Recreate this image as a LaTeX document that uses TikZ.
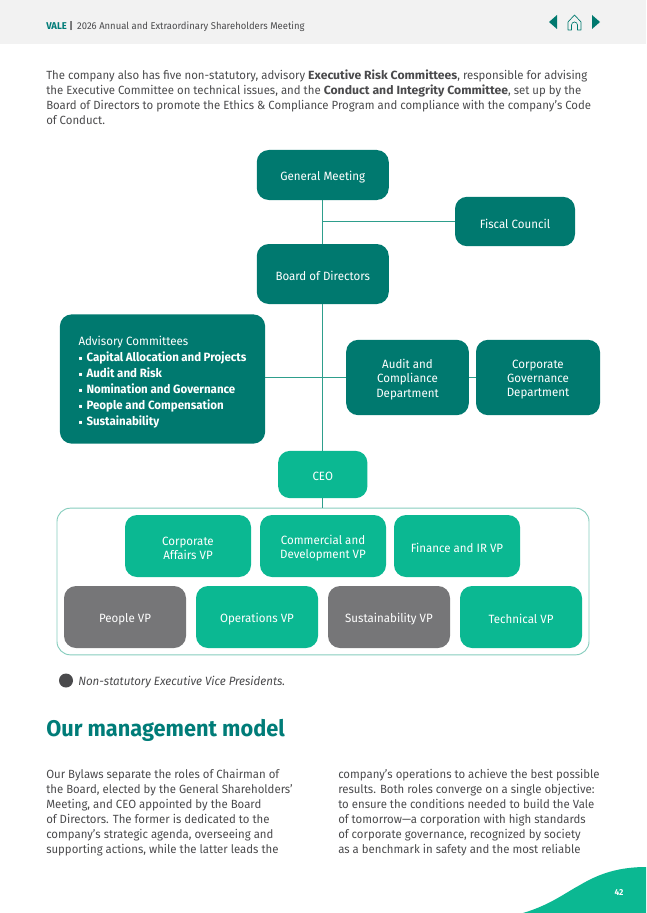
\documentclass[tikz,border=0pt]{standalone}
\usepackage{fontspec}
\setmainfont[FakeStretch=0.96]{Fira Sans}
\newfontfamily\symbolfont{DejaVu Sans}
\newfontfamily\widefont[FakeStretch=1.03]{Fira Sans}
\usepackage{xcolor}
\definecolor{valedark}{HTML}{00796F}
\definecolor{valelight}{HTML}{0BB892}
\definecolor{valegray}{HTML}{767678}
\definecolor{valeline}{HTML}{2E9E8C}
\definecolor{valeframe}{HTML}{86CDBD}
\definecolor{valetext}{HTML}{4A4A4C}
\definecolor{valeband}{HTML}{F2F2F2}
\definecolor{valehead}{HTML}{007C78}
\newcommand{\committee}[1]{\makebox[6pt][l]{\raisebox{0.6pt}{\symbolfont\fontsize{4.5}{5}\selectfont ▪}}\textbf{#1}}
\newcommand{\boxlabel}[2][90pt]{\parbox{#1}{\centering\vspace*{3pt}#2}}
\newcommand{\widebold}[1]{{\widefont\bfseries #1}}
\tikzset{
    orgbox/.style={rounded corners=9pt,align=center,text=white,font=\fontsize{9}{10.6}\selectfont,inner sep=0pt},
    darkbox/.style={orgbox,fill=valedark},
    lightbox/.style={orgbox,fill=valelight},
    graybox/.style={orgbox,fill=valegray},
    bodytext/.style={anchor=north west,align=left,inner sep=0pt,text=valetext,font=\fontsize{8.9}{11.25}\selectfont},
    link/.style={draw=valeline,line width=0.7pt}
}
\begin{document}
\begin{tikzpicture}[x=0.75pt,y=-0.75pt]
        \useasboundingbox (0,0) rectangle (646,913);
        % header
        \fill[valeband] (0,0) rectangle (646,44);
        \node[anchor=west,inner sep=0pt,text=valetext,font=\fontsize{7.4}{8}\selectfont] (headline) at (46,26.5) {\textcolor{valehead}{\textbf{VALE}} \textbf{|}\, 2026 Annual and Extraordinary Shareholders Meeting};
        \fill[valedark] (557,15) -- (557,29) -- (549,22) -- cycle;
        \fill[valedark] (592,15) -- (592,29) -- (600,22) -- cycle;
        \draw[valedark,line width=0.5pt,line join=round] (568,30) -- (568,22) -- (574.5,15) -- (581,22) -- (581,30) -- (577.5,30) -- (577.5,25) arc (0:-180:3) -- (571.5,30) -- cycle;
        % intro
        \node[bodytext] (intro) at (46,70) {The company also has five non-statutory, advisory \widebold{Executive Risk Committees}, responsible for advising\\
            the Executive Committee on technical issues, and the \widebold{Conduct and Integrity Committee}, set up by the\\
            Board of Directors to promote the Ethics \& Compliance Program and compliance with the company's Code\\
            of Conduct.};
        % upper boxes
        \node[darkbox,minimum width=99pt,minimum height=37.5pt] (meeting) at (322.75,175) {\boxlabel{General Meeting}};
        \node[darkbox,minimum width=90pt,minimum height=37pt] (fiscal) at (515,221.5) {\boxlabel[80pt]{Fiscal Council}};
        \node[darkbox,minimum width=99pt,minimum height=45pt] (board) at (322.75,274) {\boxlabel{Board of Directors}};
        \node[darkbox,minimum width=154pt,minimum height=97pt,align=left] (advisory) at (162.5,379) {\begin{minipage}{126pt}\raggedright\fontsize{9}{11.9}\selectfont\vspace*{4.5pt}Advisory Committees\\
            \committee{Capital Allocation and Projects}\\
            \committee{Audit and Risk}\\
            \committee{Nomination and Governance}\\
            \committee{People and Compensation}\\
            \committee{Sustainability}\end{minipage}};
        \node[darkbox,minimum width=92pt,minimum height=56.5pt] (audit) at (407.5,377.5) {\boxlabel{Audit and\\Compliance\\Department}};
        \node[darkbox,minimum width=93pt,minimum height=56.5pt] (governance) at (538,377.5) {\boxlabel{Corporate\\Governance\\Department}};
        \node[lightbox,minimum width=67pt,minimum height=35.5pt] (ceo) at (322.75,474.5) {\boxlabel[40pt]{CEO}};
        % vice presidents
        \node[draw=valeframe,line width=0.7pt,rounded corners=10pt,minimum width=399pt,minimum height=110pt,inner sep=0pt] (vpframe) at (323,581.5) {};
        \node[lightbox,minimum width=94.5pt,minimum height=46.5pt] (affairs) at (188,546) {\boxlabel{Corporate\\Affairs VP}};
        \node[lightbox,minimum width=94.5pt,minimum height=46.5pt] (commercial) at (323,546) {\boxlabel{Commercial and\\Development VP}};
        \node[lightbox,minimum width=94.5pt,minimum height=46.5pt] (finance) at (457,546) {\boxlabel{Finance and IR VP}};
        \node[graybox,minimum width=91.5pt,minimum height=46.5pt] (people) at (125,617) {\boxlabel{People VP}};
        \node[lightbox,minimum width=91.5pt,minimum height=46.5pt] (operations) at (257,617) {\boxlabel{Operations VP}};
        \node[graybox,minimum width=91.5pt,minimum height=46.5pt] (sustain) at (389,617) {\boxlabel{Sustainability VP}};
        \node[lightbox,minimum width=91.5pt,minimum height=46.5pt] (technical) at (521,617) {\boxlabel{Technical VP}};
        % connectors
        \draw[link] (meeting) -- (board);
        \draw[link] (board) -- (ceo);
        \draw[link] (ceo) -- (ceo |- vpframe.north);
        \draw[link] (meeting |- fiscal) -- (fiscal);
        \draw[link] (advisory.east |- audit) -- (audit);
        \draw[link] (audit) -- (governance);
        % legend
        \node[circle,fill=valetext,minimum size=10.5pt,inner sep=0pt] (legenddot) at (66,680.5) {};
        \node[anchor=west,inner sep=0pt,text=valetext,font=\fontsize{9}{10}\selectfont\itshape] (legend) at (78,682) {Non-statutory Executive Vice Presidents.};
        % model text
        \node[anchor=west,inner sep=0pt,text=valehead,font=\fontsize{17}{18}\selectfont\bfseries] (heading) at (46,730) {Our management model};
        \node[bodytext] (leftcol) at (46,768.5) {Our Bylaws separate the roles of Chairman of\\
            the Board, elected by the General Shareholders'\\
            Meeting, and CEO appointed by the Board\\
            of Directors. The former is dedicated to the\\
            company's strategic agenda, overseeing and\\
            supporting actions, while the latter leads the};
        \node[bodytext] (rightcol) at (338,768.5) {company's operations to achieve the best possible\\
            results. Both roles converge on a single objective:\\
            to ensure the conditions needed to build the Vale\\
            of tomorrow—a corporation with high standards\\
            of corporate governance, recognized by society\\
            as a benchmark in safety and the most reliable};
        % footer
        \fill[valelight] (523,913) .. controls (550,905) and (565,893) .. (580,885) .. controls (600,873) and (620,867) .. (646,867) -- (646,913) -- cycle;
        \node[text=white,inner sep=0pt,font=\fontsize{6.5}{8}\selectfont\bfseries] (pagenum) at (619,892.5) {42};
    \end{tikzpicture}
\end{document}
